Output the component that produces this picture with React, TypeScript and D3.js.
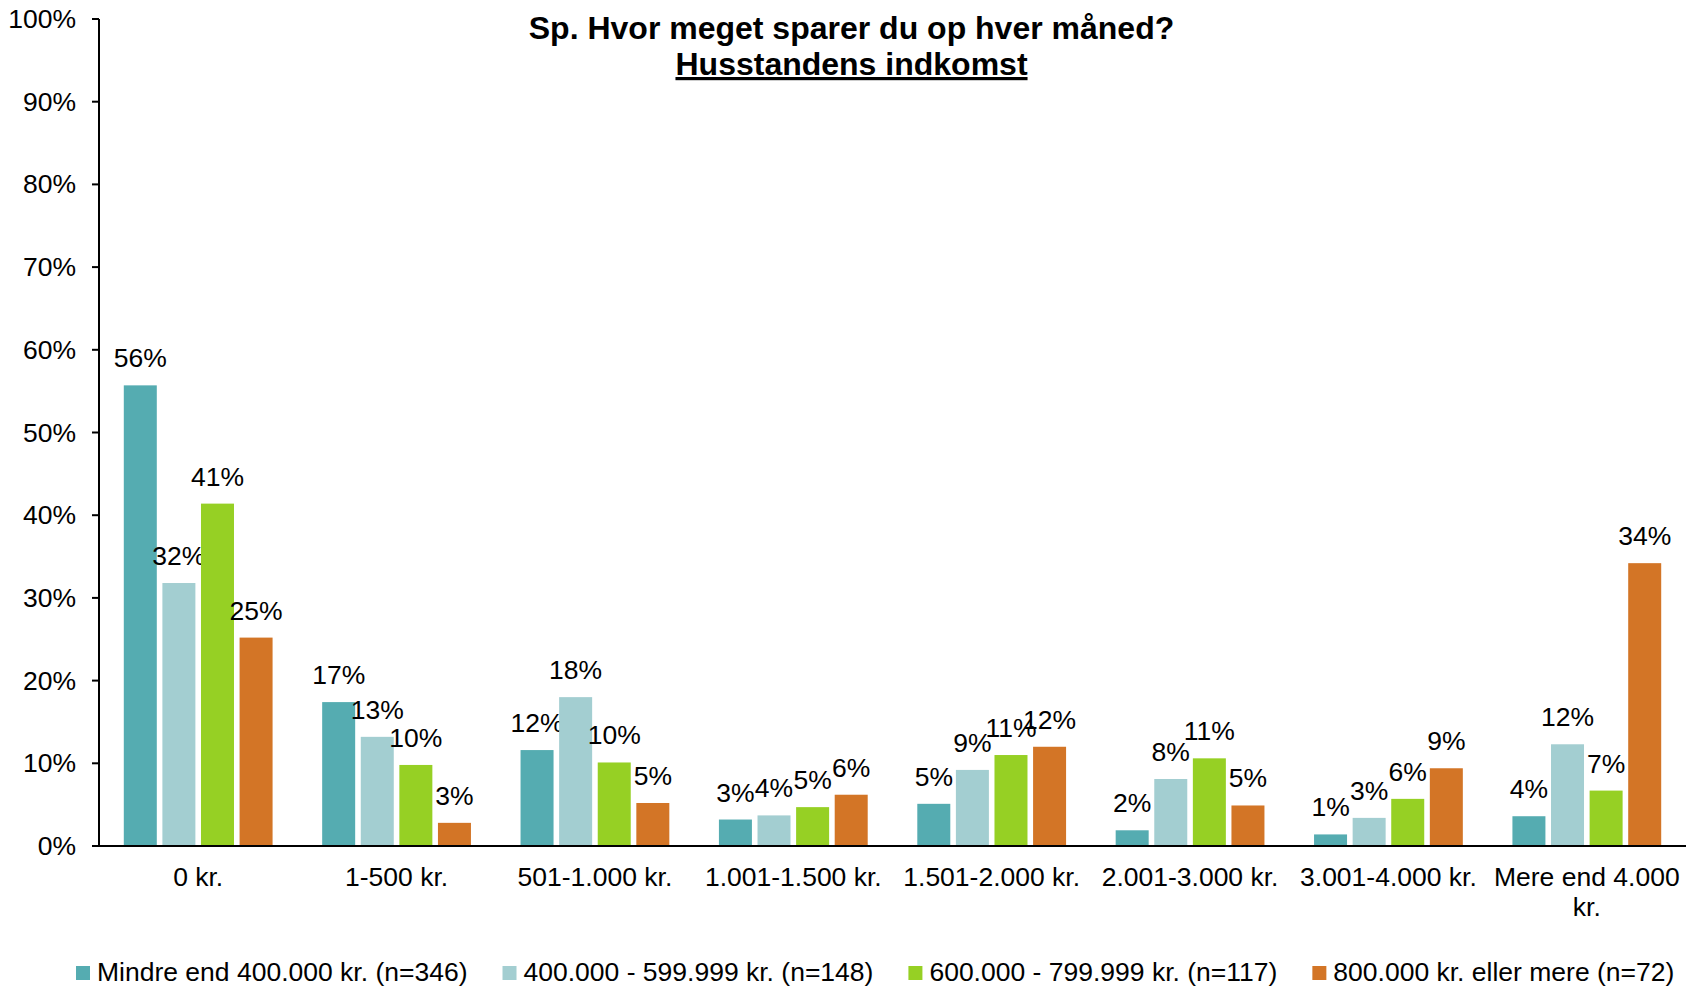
import React from "react";
import * as d3 from "d3";

const categories = [
  "0 kr.",
  "1-500 kr.",
  "501-1.000 kr.",
  "1.001-1.500 kr.",
  "1.501-2.000 kr.",
  "2.001-3.000 kr.",
  "3.001-4.000 kr.",
  "Mere end 4.000 kr.",
];

const seriesNames = [
  "Mindre end 400.000 kr. (n=346)",
  "400.000 - 599.999 kr. (n=148)",
  "600.000 - 799.999 kr. (n=117)",
  "800.000 kr. eller mere (n=72)",
];

const seriesColors = ["#55ACB1", "#A3CED1", "#96D024", "#D37526"];

const under400 = [55.7, 17.4, 11.6, 3.2, 5.1, 1.9, 1.4, 3.6];
const from400to600 = [31.8, 13.2, 18.0, 3.7, 9.2, 8.1, 3.4, 12.3];
const from600to800 = [41.4, 9.8, 10.1, 4.7, 11.0, 10.6, 5.7, 6.7];
const over800 = [25.2, 2.8, 5.2, 6.2, 12.0, 4.9, 9.4, 34.2];

const seriesValues = [under400, from400to600, from600to800, over800];

const yTicks = [0, 10, 20, 30, 40, 50, 60, 70, 80, 90, 100];

const titleLine1 = "Sp. Hvor meget sparer du op hver måned?";
const titleLine2 = "Husstandens indkomst";

const W = 1698;
const H = 989;
const FONT = "'Liberation Sans', Arial, sans-serif";
const FS = 26.5;

function measure(text: string, size: number, weight = "normal") {
  const c = document.createElement("canvas");
  const ctx = c.getContext("2d")!;
  ctx.font = `${weight} ${size}px 'Liberation Sans', Arial, sans-serif`;
  return ctx.measureText(text).width;
}

function wrap(text: string, maxW: number): string[] {
  const words = text.split(" ");
  const lines: string[] = [];
  let cur = "";
  for (const w of words) {
    const t = cur ? cur + " " + w : w;
    if (measure(t, FS) > maxW && cur) {
      lines.push(cur);
      cur = w;
    } else cur = t;
  }
  if (cur) lines.push(cur);
  return lines;
}

export default function App() {
  const left = 99;
  const right = 1686;
  const top = 19;
  const bottom = 846;

  const x = d3
    .scaleBand<string>()
    .domain(categories)
    .range([left, right])
    .paddingInner(0.25)
    .paddingOuter(0.125);

  const xs = d3
    .scaleBand<number>()
    .domain(d3.range(seriesNames.length))
    .range([0, x.bandwidth()])
    .paddingInner(0.145)
    .paddingOuter(0);

  const y = d3.scaleLinear().domain([0, 100]).range([bottom, top]);

  // legend layout
  const legendY = 981;
  const markerSize = 14;
  const legendItems: { x: number; name: string; color: string }[] = [];
  let lx = 76;
  seriesNames.forEach((n, i) => {
    legendItems.push({ x: lx, name: n, color: seriesColors[i] });
    lx += markerSize + 7 + measure(n, FS) + 35;
  });

  return (
    <svg
      width={W}
      height={H}
      style={{ position: "absolute", left: 0, top: 0, background: "#fff" }}
      fontFamily={FONT}
    >
      <rect x={0} y={0} width={W} height={H} fill="#fff" />
      {/* title */}
      <text x={851.5} y={38.5} textAnchor="middle" fontSize={32} fontWeight="bold" fill="#000">
        {titleLine1}
      </text>
      <text
        x={851.5}
        y={75}
        textAnchor="middle"
        fontSize={32}
        fontWeight="bold"
        fill="#000"
        textDecoration="underline"
      >
        {titleLine2}
      </text>

      {/* bars */}
      {categories.map((c, ci) => (
        <g key={c} transform={`translate(${x(c)},0)`}>
          {seriesValues.map((vals, si) => {
            const v = vals[ci];
            const bx = xs(si)!;
            const by = y(v);
            return (
              <g key={si}>
                <rect
                  x={bx}
                  y={by}
                  width={xs.bandwidth()}
                  height={bottom - by}
                  fill={seriesColors[si]}
                />
                <text
                  x={bx + xs.bandwidth() / 2}
                  y={by - 18}
                  textAnchor="middle"
                  fontSize={FS}
                  fill="#000"
                >
                  {Math.round(v) + "%"}
                </text>
              </g>
            );
          })}
        </g>
      ))}

      {/* y axis */}
      <line x1={left} x2={left} y1={top} y2={bottom} stroke="#000" strokeWidth={2} />
      {yTicks.map((t) => (
        <g key={t}>
          <line x1={left - 7} x2={left} y1={y(t)} y2={y(t)} stroke="#000" strokeWidth={2} />
          <text x={76} y={y(t) + 9} textAnchor="end" fontSize={FS} fill="#000">
            {t + "%"}
          </text>
        </g>
      ))}
      {/* x axis */}
      <line x1={left - 7} x2={right} y1={bottom} y2={bottom} stroke="#000" strokeWidth={2} />
      {categories.map((c) => {
        const lines = wrap(c, x.step() - 8);
        return (
          <text key={c} x={x(c)! + x.bandwidth() / 2} textAnchor="middle" fontSize={FS} fill="#000">
            {lines.map((l, i) => (
              <tspan key={i} x={x(c)! + x.bandwidth() / 2} y={886 + i * 30}>
                {l}
              </tspan>
            ))}
          </text>
        );
      })}

      {/* legend */}
      {legendItems.map((it) => (
        <g key={it.name}>
          <rect x={it.x} y={legendY - 15} width={markerSize} height={markerSize} fill={it.color} />
          <text x={it.x + markerSize + 7} y={legendY} fontSize={FS} fill="#000">
            {it.name}
          </text>
        </g>
      ))}
    </svg>
  );
}
